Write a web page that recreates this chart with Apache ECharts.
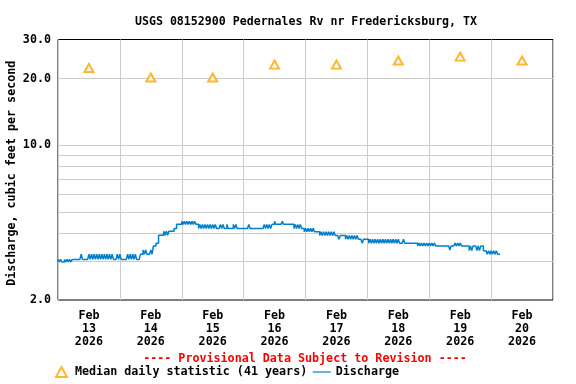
<!DOCTYPE html>
<html><head><meta charset="utf-8">
<script src="https://cdn.jsdelivr.net/npm/echarts@6/dist/echarts.min.js"></script>
<style>html,body{margin:0;padding:0;background:#fff}#c{width:576px;height:384px}</style>
</head><body><div id="c"></div>
<script>
// ---- data ----
const titleText = 'USGS 08152900 Pedernales Rv nr Fredericksburg, TX';
const provisionalText = '---- Provisional Data Subject to Revision ----';
const yAxisName = 'Discharge, cubic feet per second';
const dayMonths = ['Feb','Feb','Feb','Feb','Feb','Feb','Feb','Feb'];
const dayNumbers = ['13','14','15','16','17','18','19','20'];
const dayYears = ['2026','2026','2026','2026','2026','2026','2026','2026'];
// hours since Feb 13 00:00
const medianHours = [12,36,60,84,108,132,156,180];
const medianValues = [22.3,20.2,20.2,23.1,23.1,24.1,25.1,24.1];
const dischargeStartHour = 0;   // readings from Feb 13 00:00
const dischargeStepHours = 0.5; // every 30 minutes
const dischargeValues = [
  /* h0-5 */   3.05,2.97,3.05,2.97,2.97,3.05,2.97,3.05,2.97,3.05,2.97,3.05,
  /* h6-8 */   3.05,3.05,3.05,3.05,3.05,3.05,
  /* h9 */     3.22,3.05,
  /* h10-11 */ 3.05,3.05,3.05,3.05,
  /* h12-24 */ 3.22,3.05,3.22,3.05,3.22,3.05,3.22,3.05,3.22,3.05,3.22,3.05,3.22,
               3.05,3.22,3.05,3.22,3.05,3.22,3.05,3.05,3.05,3.22,3.05,3.22,3.05,
  /* h25-26 */ 3.05,3.05,3.05,3.05,
  /* h27-30 */ 3.22,3.05,3.22,3.05,3.22,3.05,3.22,3.05,
  /* h31 */    3.05,3.05,
  /* h32 */    3.22,3.22,
  /* h33-34 */ 3.36,3.22,3.36,3.22,
  /* h35 */    3.22,3.22,
  /* h36 */    3.36,3.22,
  /* h37 */    3.51,3.51,
  /* h38 */    3.61,3.61,
  /* h39-40 */ 3.92,3.92,3.92,3.92,
  /* h41-42 */ 4.09,3.92,4.09,3.92,
  /* h43-44 */ 4.09,4.09,4.09,4.09,
  /* h45 */    4.21,4.21,
  /* h46-47 */ 4.39,4.39,4.39,4.39,
  /* h48-53 */ 4.53,4.39,4.53,4.39,4.53,4.39,4.53,4.39,4.53,4.39,4.53,4.39,
  /* h54-61 */ 4.39,4.21,4.39,4.21,4.39,4.21,4.39,4.21,4.39,4.21,4.39,4.21,4.39,4.21,4.39,4.21,
  /* h62 */    4.21,4.21,
  /* h63-64 */ 4.39,4.21,4.39,4.21,
  /* h65 */    4.21,4.39,
  /* h66-67 */ 4.21,4.21,4.21,4.21,
  /* h68 */    4.39,4.21,
  /* h69 */    4.39,4.21,
  /* h70-73 */ 4.21,4.21,4.21,4.21,4.21,4.21,4.21,4.21,
  /* h74 */    4.39,4.21,
  /* h75-79 */ 4.21,4.21,4.21,4.21,4.21,4.21,4.21,4.21,4.21,4.21,
  /* h80-82 */ 4.39,4.21,4.39,4.21,4.39,4.21,
  /* h83 */    4.39,4.39,
  /* h84 */    4.53,4.39,
  /* h85-86 */ 4.39,4.39,4.39,4.39,
  /* h87 */    4.53,4.39,
  /* h88-90 */ 4.39,4.39,4.39,4.39,4.39,4.39,
  /* h91-94 */ 4.39,4.21,4.39,4.21,4.39,4.21,4.39,4.21,
  /* h95-99 */ 4.21,4.07,4.21,4.07,4.21,4.07,4.21,4.07,4.21,4.07,
  /* h100 */   4.07,4.07,
  /* h101-107 */ 4.07,3.91,4.07,3.91,4.07,3.91,4.07,3.91,4.07,3.91,4.07,3.91,4.07,3.91,
  /* h108 */   3.91,3.91,
  /* h109 */   3.76,3.91,
  /* h110 */   3.91,3.91,
  /* h111-116 */ 3.91,3.76,3.91,3.76,3.91,3.76,3.91,3.76,3.91,3.76,3.91,3.76,
  /* h117 */   3.76,3.76,
  /* h118 */   3.61,3.76,
  /* h119 */   3.76,3.76,
  /* h120-132 */ 3.76,3.61,3.76,3.61,3.76,3.61,3.76,3.61,3.76,3.61,3.76,3.61,3.76,
                 3.61,3.76,3.61,3.76,3.61,3.76,3.61,3.76,3.61,3.76,3.61,3.76,3.61,
  /* h133 */   3.61,3.61,
  /* h134 */   3.76,3.61,
  /* h135-138 */ 3.61,3.61,3.61,3.61,3.61,3.61,3.61,3.61,
  /* h139-146 */ 3.61,3.51,3.61,3.51,3.61,3.51,3.61,3.51,3.61,3.51,3.61,3.51,3.61,3.51,3.61,3.51,
  /* h147-151 */ 3.51,3.51,3.51,3.51,3.51,3.51,3.51,3.51,3.51,3.51,
  /* h152 */   3.36,3.51,
  /* h153 */   3.51,3.51,
  /* h154-156 */ 3.61,3.51,3.61,3.51,3.61,3.51,
  /* h157-158 */ 3.51,3.51,3.51,3.51,
  /* h159-161 */ 3.51,3.34,3.51,3.34,3.51,3.51,
  /* h162-163 */ 3.51,3.34,3.51,3.34,
  /* h164 */   3.51,3.51,
  /* h165 */   3.34,3.34,
  /* h166-171 */ 3.34,3.22,3.34,3.22,3.34,3.22,3.34,3.22,3.34,3.22,3.22,3.22
];
const yGridValues = [3,4,5,6,7,8,9,10,20];
const yTickValues = [2,10,20,30];
const xMinHour = 0, xMaxHour = 192, xStepHours = 24;

// ---- chart ----
const F = 'DejaVu Sans Mono';
const FS = 11.7;
const GRID = '#cccccc';
const BLUE = '#0080cc';
const ORANGE = '#ffa500';

const dischargeData = dischargeValues.map((v, i) => [dischargeStartHour + i * dischargeStepHours, v]);
const medianData = medianHours.map((h, i) => [h, medianValues[i]]);
const dayLabels = dayNumbers.map((d, i) => dayMonths[i] + '\n' + d + '\n' + dayYears[i]);

const chart = echarts.init(document.getElementById('c'), null, {renderer: 'canvas'});
chart.setOption({
  animation: false,
  backgroundColor: '#fff',
  textStyle: {fontFamily: F, fontWeight: 'bold'},
  title: [
    {text: titleText, left: 301, top: 11, textAlign: 'center',
     textStyle: {fontFamily: F, fontWeight: 'bold', fontSize: 11.6, color: '#000'}},
    {text: provisionalText, left: 300, top: 348, textAlign: 'center',
     textStyle: {fontFamily: F, fontWeight: 'bold', fontSize: FS, color: '#ff0000'}}
  ],
  legend: [
    {left: 55, top: 366, itemWidth: 11, itemHeight: 10, padding: 0,
     data: [{name: 'Median daily statistic (41 years)', icon: 'emptyTriangle'}],
     textStyle: {fontFamily: F, fontWeight: 'bold', fontSize: FS, color: '#000', padding: [0,0,0,3]}},
    {left: 312.7, top: 366, itemWidth: 18, itemHeight: 10, padding: 0,
     data: [{name: 'Discharge', icon: 'path://M0,4.4L18,4.4L18,5.6L0,5.6Z'}],
     textStyle: {fontFamily: F, fontWeight: 'bold', fontSize: FS, color: '#000'}}
  ],
  grid: {left: 58, top: 39.5, width: 495, height: 260.5, show: true,
         borderColor: '#000', borderWidth: 1, backgroundColor: 'transparent',
         containLabel: false, outerBoundsMode: 'none'},
  xAxis: [
    {type: 'value', min: xMinHour, max: xMaxHour, interval: xStepHours,
     axisLine: {show: false}, axisTick: {show: false}, axisLabel: {show: false},
     splitLine: {show: true, lineStyle: {color: GRID, width: 1}}},
    {type: 'category', data: dayLabels, boundaryGap: true, position: 'bottom',
     axisLine: {show: false}, axisTick: {show: false}, splitLine: {show: false},
     axisLabel: {show: true, interval: 0, margin: 9, lineHeight: 13,
       fontFamily: F, fontWeight: 'bold', fontSize: FS, color: '#000'}}
  ],
  yAxis: {type: 'log', logBase: 10, min: 2, max: 30,
    axisLine: {show: false}, axisTick: {show: false}, axisLabel: {show: false},
    splitLine: {show: false},
    name: yAxisName, nameLocation: 'middle', nameGap: 40,
    nameTextStyle: {fontFamily: F, fontWeight: 'bold', fontSize: FS, color: '#000', padding: [0,7,0,0]}},
  series: [
    {name: 'Median daily statistic (41 years)', type: 'scatter', xAxisIndex: 0, clip: false,
     data: medianData, symbol: 'emptyTriangle', symbolSize: [9, 8], z: 4,
     itemStyle: {color: ORANGE, borderColor: ORANGE, borderWidth: 1},
     markLine: {silent: true, symbol: 'none', z: 1, animation: false,
       data: yGridValues.map(v => ({yAxis: v})).concat(
         yTickValues.map(v => ({yAxis: v, lineStyle: {color: 'rgba(0,0,0,0)'},
           label: {show: true, position: 'start', distance: 7,
             formatter: () => v.toFixed(1),
             fontFamily: F, fontWeight: 'bold', fontSize: FS, color: '#000'}}))),
       lineStyle: {type: 'solid', color: GRID, width: 1},
       label: {show: false}}},
    {name: 'Discharge', type: 'line', xAxisIndex: 0, data: dischargeData,
     step: 'end', symbol: 'none', z: 3,
     lineStyle: {color: BLUE, width: 1.5}, itemStyle: {color: BLUE}}
  ]
});
</script></body></html>
